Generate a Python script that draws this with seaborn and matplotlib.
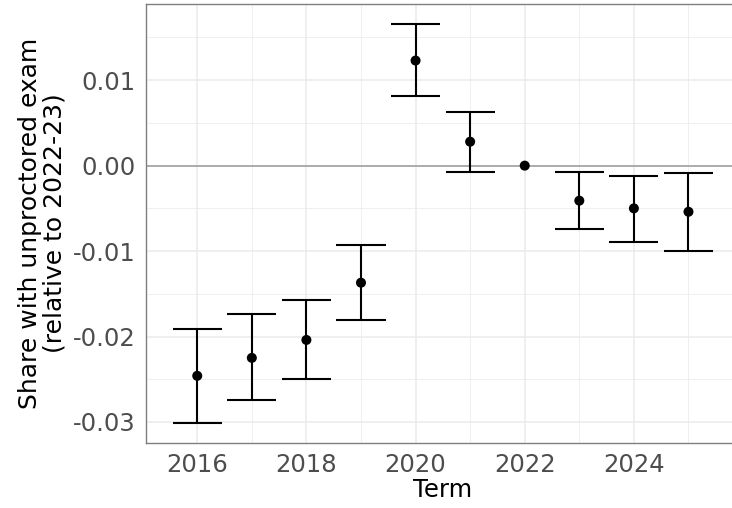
import numpy as np
import pandas as pd
import seaborn as sns
import matplotlib.pyplot as plt
from matplotlib.ticker import MultipleLocator

# values
terms = [2016, 2017, 2018, 2019, 2020, 2021, 2022, 2023, 2024, 2025]
estimate = [-0.0246, -0.0225, -0.0204, -0.0137, 0.0123, 0.0028, 0.0, -0.0041, -0.0050, -0.0054]
ci_low = [-0.0301, -0.0274, -0.0250, -0.0181, 0.0081, -0.0007, np.nan, -0.0074, -0.0089, -0.0100]
ci_high = [-0.0191, -0.0174, -0.0157, -0.0093, 0.0166, 0.0063, np.nan, -0.0007, -0.0012, -0.0009]

df = pd.DataFrame({'term': terms, 'est': estimate, 'lo': ci_low, 'hi': ci_high})
bars = df.dropna()

sns.set_style('white')
plt.rcParams['font.family'] = ['DejaVu Sans']

fig = plt.figure(figsize=(7.32, 5.08), dpi=100)
# panel runs a little past the right edge of the image (cropped like the original)
ax = fig.add_axes([0.199, 0.128, 0.812, 0.864])

# grid like theme_bw
ax.xaxis.set_major_locator(MultipleLocator(2))
ax.xaxis.set_minor_locator(MultipleLocator(1))
ax.yaxis.set_major_locator(MultipleLocator(0.01))
ax.yaxis.set_minor_locator(MultipleLocator(0.005))
ax.grid(which='major', color='#EBEBEB', lw=1.1)
ax.grid(which='minor', color='#EBEBEB', lw=0.55)
ax.set_axisbelow(True)

ax.axhline(0, color='#999999', lw=1.1, zorder=1)

width = 0.9
ax.vlines(bars['term'], bars['lo'], bars['hi'], color='black', lw=1.5, zorder=2)
ax.hlines(bars['lo'], bars['term'] - width / 2, bars['term'] + width / 2, color='black', lw=1.5, zorder=2)
ax.hlines(bars['hi'], bars['term'] - width / 2, bars['term'] + width / 2, color='black', lw=1.5, zorder=2)

sns.scatterplot(data=df, x='term', y='est', ax=ax, color='black', s=52, edgecolor='none', zorder=3)

ax.set_xlim(2015.055, 2025.945)
ax.set_ylim(-0.03246, 0.01891)
ax.set_xticks([2016, 2018, 2020, 2022, 2024])
ax.set_yticks([0.01, 0.0, -0.01, -0.02, -0.03])
ax.set_yticklabels(['0.01', '0.00', '-0.01', '-0.02', '-0.03'])

for s in ax.spines.values():
    s.set_color('#7F7F7F')
    s.set_linewidth(1.0)

ax.tick_params(axis='both', which='major', labelsize=17.5, labelcolor='#4D4D4D',
               color='#333333', length=4, width=1.0, direction='out')
ax.tick_params(axis='both', which='minor', length=0)
ax.tick_params(axis='x', pad=3)
ax.tick_params(axis='y', pad=3)

ax.set_xlabel('Term', fontsize=17.5, color='black', labelpad=1)
ax.set_ylabel('Share with unproctored exam\n(relative to 2022-23)', fontsize=18,
              color='black', labelpad=5, linespacing=1.0)

fig.savefig('out.png', dpi=100)
